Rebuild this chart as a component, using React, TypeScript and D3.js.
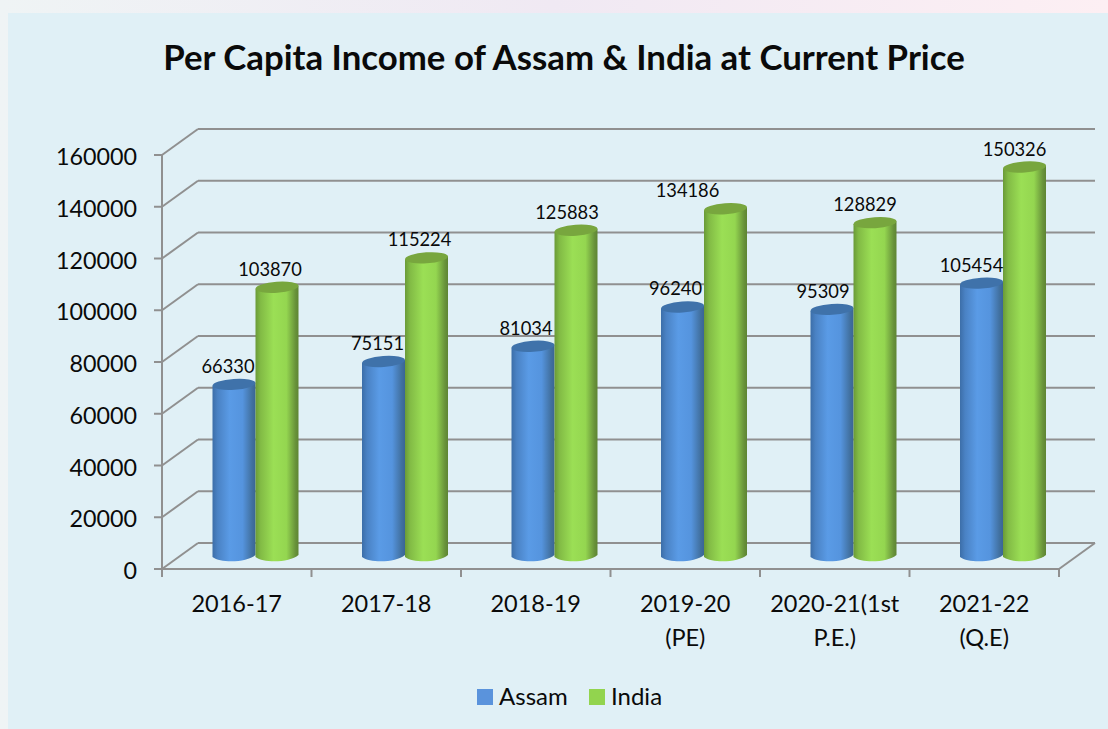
import React from "react";
import * as d3 from "d3";

const categories = ["2016-17", "2017-18", "2018-19", "2019-20|(PE)", "2020-21(1st|P.E.)", "2021-22|(Q.E)"];
const assam = [66330, 75151, 81034, 96240, 95309, 105454];
const india = [103870, 115224, 125883, 134186, 128829, 150326];
const yTicks = [0, 20000, 40000, 60000, 80000, 100000, 120000, 140000, 160000];
const assamLabelNudge = [-6, -6, -7, -7, -9, -10];
const indiaLabelNudge = [-7, -7, -9, -38, -10, -10];

const FONT = "Lato, Carlito, 'Open Sans', sans-serif";
const AXIS = "#909090";
const depthX = 36, depthY = -26;

const x = d3.scaleBand<number>().domain(d3.range(6)).range([162, 1059]);
const y = d3.scaleLinear().domain([0, 160000]).range([569, 155]);
const barOff = 50.5, barW = 43;
const barDepthY = -13;
const ry = 6.5;

function cylinder(left: number, w: number, v: number) {
  const top = y(v) + barDepthY;
  const base = y(0) + barDepthY;
  const p = d3.path();
  p.moveTo(left, top + 1.5);
  p.lineTo(left, base + 1);
  p.bezierCurveTo(left + w * 0.2, base + ry + 1, left + w * 0.8, base + ry, left + w, base - 1);
  p.lineTo(left + w, top - 1.5);
  p.closePath();
  return { body: p.toString(), top };
}

export default function App() {
  React.useEffect(() => {
    document.body.style.margin = "0";
  }, []);
  const series = [
    { name: "Assam", values: assam, grad: "url(#gBlue)", cap: "#3f72aa", off: 0, nudge: assamLabelNudge },
    { name: "India", values: india, grad: "url(#gGreen)", cap: "#78a63e", off: barW, nudge: indiaLabelNudge },
  ];
  return (
    <svg width={1108} height={729} style={{ position: "fixed", left: 0, top: 0, display: "block" }} fontFamily={FONT}>
      <defs>
        <linearGradient id="gPage" x1="0" x2="1" y1="0" y2="0">
          <stop offset="0" stopColor="#eff4f5" />
          <stop offset="0.5" stopColor="#f0e9f3" />
          <stop offset="1" stopColor="#fdeff3" />
        </linearGradient>
        <linearGradient id="gBlue" x1="0" x2="1" y1="0" y2="0">
          <stop offset="0" stopColor="#3c6ea8" />
          <stop offset="0.12" stopColor="#4a82c4" />
          <stop offset="0.4" stopColor="#5a9be6" />
          <stop offset="0.7" stopColor="#5594de" />
          <stop offset="0.92" stopColor="#41709f" />
          <stop offset="1" stopColor="#3a6595" />
        </linearGradient>
        <linearGradient id="gGreen" x1="0" x2="1" y1="0" y2="0">
          <stop offset="0" stopColor="#6a9a38" />
          <stop offset="0.12" stopColor="#82bb45" />
          <stop offset="0.42" stopColor="#9bdf55" />
          <stop offset="0.72" stopColor="#94d650" />
          <stop offset="0.93" stopColor="#68923a" />
          <stop offset="1" stopColor="#5e8533" />
        </linearGradient>
      </defs>
      <rect width={1108} height={729} fill="url(#gPage)" />
      <rect x={8} y={13} width={1100} height={716} fill="#e0f0f6" />

      <text x={564} y={70} textAnchor="middle" fontSize={34.8} fontWeight={700} fill="#0a0a0a">
        Per Capita Income of Assam &amp; India at Current Price
      </text>

      <g stroke={AXIS} strokeWidth={2} fill="none">
        {yTicks.map((t) => (
          <g key={t}>
            <line x1={162} x2={162 + depthX} y1={y(t)} y2={y(t) + depthY} />
            <line x1={162 + depthX} x2={1059 + depthX} y1={y(t) + depthY} y2={y(t) + depthY} />
            <line x1={154} x2={162} y1={y(t)} y2={y(t)} />
          </g>
        ))}
        <line x1={162} x2={162} y1={y(160000)} y2={y(0) + 8} />
        <line x1={162} x2={1059} y1={y(0)} y2={y(0)} />
        <line x1={1059} x2={1059 + depthX} y1={y(0)} y2={y(0) + depthY} />
        {d3.range(1, 7).map((i) => {
          const px = i < 6 ? x(i)! : 1059;
          return <line key={i} x1={px} x2={px} y1={y(0)} y2={y(0) + 8} />;
        })}
      </g>

      {yTicks.map((t) => (
        <text key={t} x={137} y={y(t) + 10} textAnchor="end" fontSize={23.3} fill="#0a0a0a">
          {t}
        </text>
      ))}

      {categories.map((c, i) => (
        <text key={c} textAnchor="middle" fontSize={23.5} fill="#0a0a0a">
          {c.split("|").map((line, k) => (
            <tspan key={k} x={x(i)! + x.bandwidth() / 2} y={612 + k * 34}>
              {line}
            </tspan>
          ))}
        </text>
      ))}

      {categories.map((_, i) => (
        <g key={i}>
          {series.map((s) => {
            const left = x(i)! + barOff + s.off;
            const c = cylinder(left, barW, s.values[i]);
            return (
              <g key={s.name}>
                <path d={c.body} fill={s.grad} />
                <ellipse
                  cx={left + barW / 2}
                  cy={c.top}
                  rx={barW / 2}
                  ry={5.5}
                  fill={s.cap}
                  transform={`rotate(-4 ${left + barW / 2} ${c.top})`}
                />
              </g>
            );
          })}
        </g>
      ))}

      {categories.map((_, i) => (
        <g key={i}>
          {series.map((s) => {
            const left = x(i)! + barOff + s.off;
            return (
              <text
                key={s.name}
                x={left + barW / 2 + s.nudge[i]}
                y={y(s.values[i]) + barDepthY - 11.5}
                textAnchor="middle"
                fontSize={18.3}
                fill="#0a0a0a"
              >
                {s.values[i]}
              </text>
            );
          })}
        </g>
      ))}

      <rect x={477} y={689} width={16} height={16} fill="#5a93dc" />
      <text x={499} y={705} fontSize={24} fill="#0a0a0a">Assam</text>
      <rect x={589} y={689} width={16} height={16} fill="#92d44e" />
      <text x={611} y={705} fontSize={24} fill="#0a0a0a">India</text>
    </svg>
  );
}
